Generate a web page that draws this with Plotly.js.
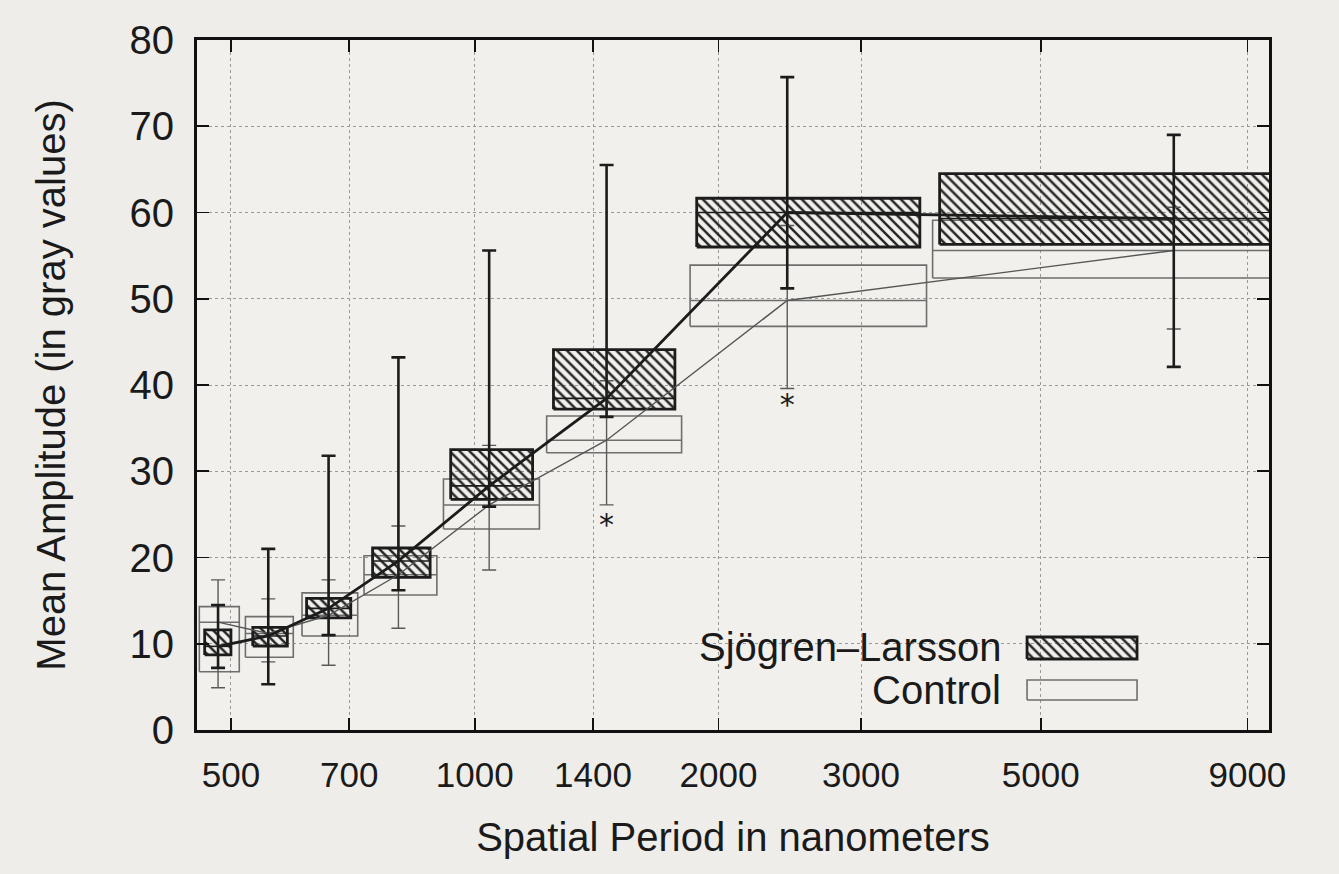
<!DOCTYPE html>
<html><head><meta charset="utf-8">
<script src="https://cdn.plot.ly/plotly-3.0.1.min.js"></script>
<style>html,body{margin:0;padding:0;background:#eeede9;} #chart{width:1339px;height:874px;}</style>
</head><body><div id="chart"></div>
<script>
// ---- data ----
const centers     = [482, 556, 660, 805, 1042, 1455, 2432, 7300];   // nm, group centres
const tickVals    = [500, 700, 1000, 1400, 2000, 3000, 5000, 9000];
const tickText    = ['500', '700', '1000', '1400', '2000', '3000', '5000', '9000'];

// Sjögren-Larsson
const slLeft   = [464, 532, 620, 748, 934, 1251, 1880, 3751];
const slRight  = [500, 587, 703, 881, 1179, 1767, 3546, 10000];
const slBoxLo  = [8.7, 9.74, 13.0, 17.7, 26.75, 37.2, 56.0, 56.3];
const slBoxHi  = [11.6, 11.9, 15.25, 21.1, 32.5, 44.1, 61.65, 64.5];
const slMedian = [9.7, 10.9, 14.1, 19.6, 28.3, 38.45, 60.0, 59.3];
const slWhLo   = [7.2, 5.3, 11.0, 16.2, 25.9, 36.3, 51.2, 42.1];
const slWhHi   = [14.5, 21.0, 31.8, 43.2, 55.6, 65.5, 75.7, 69.0];

// Control
const ctLeft   = [457, 521, 612, 730, 915, 1227, 1845, 3677];
const ctRight  = [512, 597, 717, 898, 1202, 1801, 3614, 10000];
const ctBoxLo  = [6.76, 8.43, 10.9, 15.65, 23.3, 32.15, 46.8, 52.4];
const ctBoxHi  = [14.3, 13.14, 15.9, 20.2, 29.1, 36.4, 53.9, 59.1];
const ctMedian = [12.5, 11.2, 13.3, 18.0, 26.1, 33.6, 49.8, 55.6];
const ctWhLo   = [4.9, 7.9, 7.5, 11.8, 18.55, 26.1, 39.6, 46.5];
const ctWhHi   = [17.4, 15.2, 17.4, 23.65, 33.0, 40.5, 58.5, 60.6];

// significance markers
const starX = [1455, 2432];
const starY = [23.5, 37.4];

const seriesNames = ['Sjögren\u2013Larsson', 'Control'];

// ---- helpers ----
function boxPath(L, R, lo, hi) {
  const x = [], y = [];
  for (let i = 0; i < L.length; i++) {
    x.push(L[i], R[i], R[i], L[i], L[i], null);
    y.push(lo[i], lo[i], hi[i], hi[i], lo[i], null);
  }
  return {x, y};
}
function medPath(L, R, m) {
  const x = [], y = [];
  for (let i = 0; i < L.length; i++) { x.push(L[i], R[i], null); y.push(m[i], m[i], null); }
  return {x, y};
}
const diff = (a, b) => a.map((v, i) => v - b[i]);

const DARK = '#1c1c1c', GREY = '#6e6e6e';
const hatch = {shape: '\\', fgcolor: '#262626', bgcolor: 'rgba(0,0,0,0)', size: 7, solidity: 0.36, fillmode: 'replace'};

const ctB = boxPath(ctLeft, ctRight, ctBoxLo, ctBoxHi);
const slB = boxPath(slLeft, slRight, slBoxLo, slBoxHi);
const ctM = medPath(ctLeft, ctRight, ctMedian);
const slM = medPath(slLeft, slRight, slMedian);

const traces = [
  {x: ctB.x, y: ctB.y, mode: 'lines', line: {color: GREY, width: 1.6}, name: seriesNames[1], hoverinfo: 'skip'},
  {x: ctM.x, y: ctM.y, mode: 'lines', line: {color: GREY, width: 1.5}, hoverinfo: 'skip'},
  {x: slB.x, y: slB.y, mode: 'lines', fill: 'toself', fillcolor: 'rgba(0,0,0,0)', fillpattern: hatch,
   line: {color: DARK, width: 2.8}, name: seriesNames[0], hoverinfo: 'skip'},
  {x: slM.x, y: slM.y, mode: 'lines', line: {color: DARK, width: 1.6}, hoverinfo: 'skip'},
  // connecting lines
  {x: centers, y: ctMedian, mode: 'lines', line: {color: '#555', width: 1.4}},
  {x: centers, y: slMedian, mode: 'lines', line: {color: DARK, width: 2.8}},
  // whiskers
  {x: centers, y: ctMedian, mode: 'markers', marker: {size: 1, color: 'rgba(0,0,0,0)'},
   error_y: {type: 'data', symmetric: false, array: diff(ctWhHi, ctMedian), arrayminus: diff(ctMedian, ctWhLo),
             color: '#5a5a5a', thickness: 1.4, width: 7}},
  {x: centers, y: slMedian, mode: 'markers', marker: {size: 1, color: 'rgba(0,0,0,0)'},
   error_y: {type: 'data', symmetric: false, array: diff(slWhHi, slMedian), arrayminus: diff(slMedian, slWhLo),
             color: DARK, thickness: 2.6, width: 7}},
  // stars
  {x: starX, y: starY, mode: 'text', text: starX.map(() => '*'), textposition: 'middle center',
   textfont: {family: 'DejaVu Sans, sans-serif', size: 30, color: DARK}}
];

// custom gnuplot-style key (text left, sample right) on a hidden 0..1 overlay axis
const keyX = [0.7743, 0.8769];
const keyRows = [[0.1029, 0.1348], [0.0435, 0.0725]];
const keyTextX = 0.7519;
const keyTextY = [0.1203, 0.058];
function rect(xr, yr) { return {x: [xr[0], xr[1], xr[1], xr[0], xr[0]], y: [yr[0], yr[0], yr[1], yr[1], yr[0]]}; }
const k0 = rect(keyX, keyRows[0]), k1 = rect(keyX, keyRows[1]);
traces.push(
  {x: k1.x, y: k1.y, xaxis: 'x2', yaxis: 'y2', mode: 'lines', line: {color: GREY, width: 1.6}, hoverinfo: 'skip'},
  {x: k0.x, y: k0.y, xaxis: 'x2', yaxis: 'y2', mode: 'lines', fill: 'toself', fillcolor: 'rgba(0,0,0,0)',
   fillpattern: hatch, line: {color: DARK, width: 2.8}, hoverinfo: 'skip'}
);

const FONT = 'Liberation Sans, Arial, Helvetica, sans-serif';
const layout = {
  width: 1339, height: 874,
  margin: {l: 197, r: 70, t: 40, b: 144},
  paper_bgcolor: '#eeede9', plot_bgcolor: '#f1f0ec',
  showlegend: false,
  font: {family: FONT, color: '#1a1a1a', size: 40},
  xaxis: {
    type: 'log', range: [Math.log10(454), Math.log10(9570)],
    tickvals: tickVals, ticktext: tickText,
    tickfont: {family: 'Liberation Sans Narrow, Arial Narrow, ' + FONT, size: 35, color: '#1a1a1a'},
    ticks: 'inside', ticklen: 12, tickwidth: 1.8, tickcolor: '#111',
    showline: true, linecolor: '#111', linewidth: 3, mirror: 'allticks',
    showgrid: true, gridcolor: '#9a9a9a', griddash: 'dot', gridwidth: 1,
    ticklabelstandoff: 12,
    title: {text: 'Spatial Period in nanometers', font: {family: FONT, size: 40, color: '#1a1a1a'}, standoff: 30},
    zeroline: false, fixedrange: true
  },
  yaxis: {
    range: [0, 80], tickvals: [0, 10, 20, 30, 40, 50, 60, 70, 80],
    tickfont: {family: FONT, size: 40, color: '#1a1a1a'},
    ticks: 'inside', ticklen: 12, tickwidth: 1.8, tickcolor: '#111',
    showline: true, linecolor: '#111', linewidth: 3, mirror: 'allticks',
    showgrid: true, gridcolor: '#9a9a9a', griddash: 'dot', gridwidth: 1,
    ticklabelstandoff: 12,
    title: {text: 'Mean Amplitude (in gray values)', font: {family: FONT, size: 40, color: '#1a1a1a'}, standoff: 52},
    zeroline: false, fixedrange: true
  },
  xaxis2: {overlaying: 'x', anchor: 'y2', range: [0, 1], visible: false, fixedrange: true},
  yaxis2: {overlaying: 'y', anchor: 'x2', range: [0, 1], visible: false, fixedrange: true},
  annotations: seriesNames.map((t, i) => ({
    text: t, xref: 'paper', yref: 'paper', x: keyTextX, y: keyTextY[i],
    xanchor: 'right', yanchor: 'middle', showarrow: false,
    font: {family: FONT, size: 40, color: '#1a1a1a'}
  }))
};

Plotly.newPlot('chart', traces, layout, {displayModeBar: false, staticPlot: true});
</script>
</body></html>
